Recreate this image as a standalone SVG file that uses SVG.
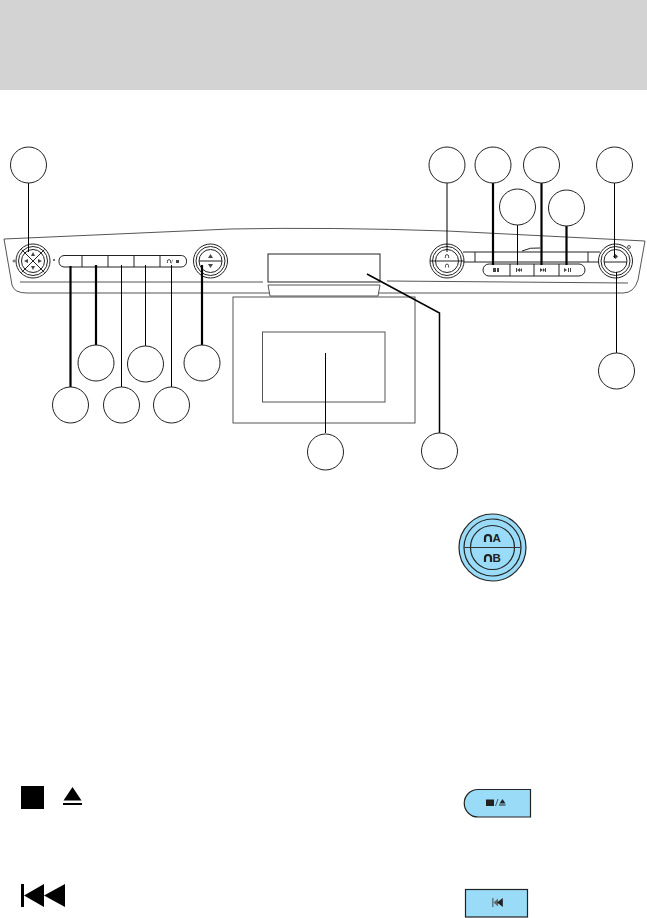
<svg xmlns="http://www.w3.org/2000/svg" width="647" height="918" viewBox="0 0 647 918">
<style>
.c{fill:#fff;stroke:#222;stroke-width:1}
.p{fill:none;stroke:#555;stroke-width:1}
.d{fill:none;stroke:#222;stroke-width:1}
.l{fill:none;stroke:#000;stroke-width:1}
.t{fill:none;stroke:#000;stroke-width:2.2}
.k{fill:#000;stroke:none}
.g{fill:#444;stroke:none}
.b{fill:#9adcf8;stroke:#222;stroke-width:1.2}
</style>
<defs>
<g id="knob"><circle r="17" fill="#fff" stroke="#222" stroke-width="1"/><circle r="14.5" fill="none" stroke="#222" stroke-width="1"/><circle r="11.5" fill="none" stroke="#222" stroke-width="1"/></g>
<path id="arch" d="M-1.6 1.5V-.3A1.6 1.6 0 0 1 1.6-.3V1.5" fill="none" stroke="#333" stroke-width=".9"/>
</defs>
<rect id="header" width="647" height="90" fill="#d3d3d3"/>
<g id="panel">
<path class="p" d="M12 285L4 239L230 229Q330 227 447 231L645 241L638 280Q634 293 623 293H27Q14 293 12 285Z"/>
<path class="p" d="M20 282H263M387 281L628 283"/>
<path class="d" d="M463 252H475V262M475 252H588V262M588 252H600M463 262H600"/>
<path class="d" d="M522 251Q530 247 540 248"/>
<circle cx="629" cy="247" r="1.5" class="p"/>
<circle cx="14" cy="261" r="1" class="p"/>
<circle cx="54" cy="260" r="1" class="g"/>
</g>
<g id="display">
<rect x="268" y="254" width="112" height="28" fill="#fff" stroke="#222"/>
<path d="M268 285H380L378 296H270Z" fill="#fff" stroke="#555"/>
</g>
<g id="screen">
<rect x="233" y="297" width="182" height="126" fill="#fff" stroke="#555"/>
<rect x="262.500" y="332" width="122.500" height="70" fill="#fff" stroke="#555"/>
</g>
<g id="knob-left" transform="translate(33 261)">
<use href="#knob"/>
<path class="d" d="M-11.500 -11.500L11.500 11.500M11.500 -11.500L-11.500 11.500"/>
<path class="g" d="M0-9L2-5H-2ZM0 9L2 5H-2ZM-9 0L-5-2V2ZM9 0L5-2V2Z"/>
</g>
<g id="buttons-left">
<path class="d" d="M64 255.500H181.500A5.800 5.800 0 0 1 181.500 267H64A5.800 5.800 0 0 1 64 255.500ZM82 255.500V267M108 255.500V267M134 255.500V267M160 255.500V267"/>
<use href="#arch" x="169" y="261.500"/>
<path class="g" d="M172.500 259.500l.5 0-1.500 4-.5 0zM176 260h3v3h-3z"/>
</g>
<g id="knob-vol" transform="translate(210.500 261)">
<use href="#knob"/>
<path class="d" d="M-11.500 0H11.500"/>
<path class="g" d="M0-7L2.500-3H-2.500ZM0 7L2.500 3H-2.500Z"/>
</g>
<g id="knob-am" transform="translate(447 261)">
<use href="#knob"/>
<path class="d" d="M-17 0H17"/>
<use href="#arch" y="-4.500"/><use href="#arch" y="5"/>
</g>
<g id="buttons-right">
<path class="d" d="M489 264H579A6 6 0 0 1 579 276H489A6 6 0 0 1 489 264ZM510 264V276M534 264V276M559 264V276"/>
<path class="g" d="M493 268h3v4h-3zM497 268h2v4h-2zM516 268h1v4h-1zM517 270l3-2v4zM520 270l2-2v4zM540 268l3 2-3 2zM543 268l2 2-2 2zM545 268h1v4h-1zM564 268l3 2-3 2zM568 268h1v4h-1zM570 268h1v4h-1z"/>
</g>
<g id="knob-power" transform="translate(615.500 261)">
<use href="#knob"/>
<path class="d" d="M-11.500 1H11.500"/>
<path class="g" d="M0-7L2.500-4.500L0-2L-2.500-4.500Z"/>
</g>
<g id="connectors">
<path class="l" d="M28.500 183V252"/>
<path class="t" d="M70.500 266V387"/>
<path class="t" d="M96 265V345"/>
<path class="l" d="M121.500 265V387"/>
<path class="l" d="M145.500 265V346"/>
<path class="l" d="M171.500 265V387"/>
<path class="t" d="M202 265V345"/>
<path class="l" d="M325.500 353V433"/>
<path d="M367 274L439.500 313V433" fill="none" stroke="#000" stroke-width="1.500"/>
<path class="l" d="M447 183V252"/>
<path class="t" d="M493 183V265"/>
<path class="t" d="M541.500 183V265"/>
<path class="l" d="M517.500 225V265"/>
<path class="t" d="M566.500 226V265"/>
<path class="l" d="M614.500 183V258"/>
<path class="l" d="M616.500 272V353"/>
</g>
<g id="callouts">
<circle id="n1" class="c" cx="28.500" cy="165" r="18"/>
<circle id="n2" class="c" cx="70.500" cy="405" r="18"/>
<circle id="n3" class="c" cx="96" cy="363" r="18"/>
<circle id="n4" class="c" cx="121.500" cy="405" r="18"/>
<circle id="n5" class="c" cx="145.500" cy="364" r="18"/>
<circle id="n6" class="c" cx="171.500" cy="405" r="18"/>
<circle id="n7" class="c" cx="202" cy="363" r="18"/>
<circle id="n8" class="c" cx="325.500" cy="452" r="18"/>
<circle id="n9" class="c" cx="439.500" cy="451" r="18"/>
<circle id="n10" class="c" cx="447" cy="165" r="18"/>
<circle id="n11" class="c" cx="493" cy="165" r="18"/>
<circle id="n12" class="c" cx="517.500" cy="207" r="18"/>
<circle id="n13" class="c" cx="541.500" cy="165" r="18"/>
<circle id="n14" class="c" cx="566.500" cy="208" r="18"/>
<circle id="n15" class="c" cx="614.500" cy="165" r="18"/>
<circle id="n16" class="c" cx="616.500" cy="371" r="18"/>
</g>
<g id="am-button">
<circle class="b" cx="492.500" cy="547.500" r="33.500"/>
<circle cx="492.500" cy="547.500" r="28.500" fill="none" stroke="#222" stroke-width="1.200"/>
<circle cx="492.500" cy="547.500" r="22" fill="none" stroke="#222" stroke-width="1.200"/>
<path d="M464.500 547.500H520.500" stroke="#333" stroke-width="1.200"/>
<path d="M485 542V538A3 3 0 0 1 491 538V542M485 562V558A3 3 0 0 1 491 558V562" fill="none" stroke="#222" stroke-width="2.200"/>
<text x="492.500" y="542" font-family="Liberation Sans, sans-serif" font-size="11.500" font-weight="700" fill="#222">A</text>
<text x="492.500" y="562" font-family="Liberation Sans, sans-serif" font-size="11.500" font-weight="700" fill="#222">B</text>
</g>
<g id="stop-eject-icon">
<rect class="k" x="21" y="786" width="23" height="23"/>
<path class="k" d="M72.500 787L81.500 800.500H63.500Z"/>
<rect class="k" x="63" y="803" width="19" height="2"/>
</g>
<g id="stop-eject-button">
<path class="b" d="M530.500 789.500V817H478A13.750 13.750 0 0 1 478 789.500Z"/>
<rect x="486" y="799.500" width="8" height="6.500" fill="#222"/>
<path d="M495.500 806L498 799" stroke="#222" stroke-width=".7"/>
<path d="M502.500 799L505.500 803.500H499.500Z" fill="#222"/>
<rect x="499" y="804.500" width="6.500" height="1" fill="#222"/>
</g>
<g id="prev-icon">
<rect class="k" x="21" y="884" width="3" height="23"/>
<path class="k" d="M24 895.500L44 884V907ZM44 895.500L65 884V907Z"/>
</g>
<g id="prev-button">
<rect class="b" x="465.500" y="889.500" width="62" height="27.500"/>
<rect x="492.500" y="898" width=".8" height="9" fill="#222"/>
<path d="M493.500 902.500L498 898.500V906.500Z" fill="#666"/>
<path d="M497 902.500L502.800 898V907Z" fill="#222"/>
</g>
</svg>
